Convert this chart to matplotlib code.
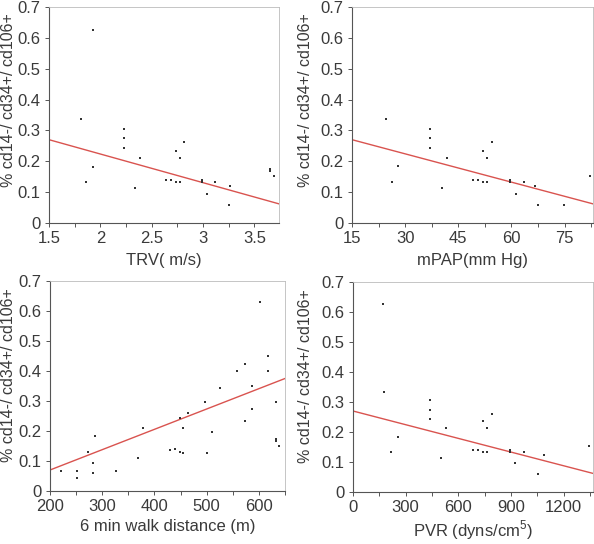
import numpy as np
import matplotlib
matplotlib.use('Agg')
import matplotlib.pyplot as plt
from matplotlib.ticker import MultipleLocator

# TRV (m/s)
trv_x = [1.815, 1.93, 1.864, 1.93, 2.23, 2.23, 2.23, 2.334, 2.39, 2.636, 2.685, 2.734,
         2.734, 2.773, 2.773, 2.815, 2.994, 2.994, 3.04, 3.114, 3.26, 3.25, 3.656, 3.656, 3.695]
trv_y = [0.337, 0.624, 0.133, 0.182, 0.304, 0.274, 0.242, 0.114, 0.21, 0.139, 0.139, 0.234,
         0.132, 0.132, 0.21, 0.261, 0.139, 0.132, 0.095, 0.132, 0.12, 0.057, 0.174, 0.169, 0.153]

# mPAP (mm Hg)
mpap_x = [24.7, 26.2, 28.0, 37.0, 37.0, 37.0, 40.3, 41.7, 49.2, 50.5, 52.0, 52.0,
          53.2, 53.2, 54.6, 59.7, 59.7, 61.2, 63.5, 66.5, 67.6, 74.8, 82.1]
mpap_y = [0.337, 0.132, 0.184, 0.304, 0.274, 0.242, 0.114, 0.21, 0.139, 0.139, 0.234, 0.132,
          0.132, 0.21, 0.261, 0.139, 0.132, 0.095, 0.132, 0.12, 0.057, 0.057, 0.153]

# 6 min walk distance (m)
walk_x = [221, 252, 252, 273, 282, 283, 287, 327, 369, 378, 429, 439, 448, 455, 448, 455,
          465, 496, 501, 511, 526, 558, 573, 573, 587, 587, 603, 618, 618, 633, 633, 633, 639]
walk_y = [0.068, 0.068, 0.042, 0.131, 0.094, 0.061, 0.182, 0.068, 0.111, 0.21, 0.137, 0.14,
          0.131, 0.128, 0.243, 0.21, 0.26, 0.297, 0.128, 0.196, 0.344, 0.4, 0.424, 0.232,
          0.349, 0.273, 0.629, 0.449, 0.4, 0.297, 0.173, 0.168, 0.151]

# PVR (dyns/cm5)
pvr_x = [169, 175, 218, 256, 437, 437, 437, 503, 532, 682, 710, 739, 739, 763, 763, 790,
         896, 896, 925, 972, 1086, 1052, 1342]
pvr_y = [0.626, 0.333, 0.133, 0.184, 0.306, 0.274, 0.243, 0.114, 0.212, 0.141, 0.141, 0.236,
         0.133, 0.133, 0.212, 0.261, 0.141, 0.133, 0.097, 0.133, 0.122, 0.059, 0.153]

# regression line end points
trv_fit = ([1.5, 3.74], [0.27, 0.062])
mpap_fit = ([15, 83], [0.27, 0.062])
walk_fit = ([200, 650], [0.07, 0.375])
pvr_fit = ([0, 1367], [0.27, 0.062])

plt.rcParams['font.family'] = ['Liberation Sans', 'DejaVu Sans']
plt.rcParams['mathtext.fontset'] = 'custom'
plt.rcParams['mathtext.rm'] = 'Liberation Sans'

W, H = 594, 544
fig = plt.figure(figsize=(W / 100, H / 100), dpi=100)

text_col = '#3a3a3a'
panels = [
    # (left, right, top, bottom) in pixels, ylabel x in pixels, ylabel centre y in axes coords, xlabel pad
    ((49, 279, 7, 223), 16, 0.57, 5, trv_x, trv_y, trv_fit, (1.5, 3.74), 0.5, 0.25, 'TRV( m/s)'),
    ((352, 593, 7, 223), 313, 0.57, 5, mpap_x, mpap_y, mpap_fit, (15, 83), 15, 7.5, 'mPAP(mm Hg)'),
    ((50, 285, 281, 491), 16, 0.55, 3, walk_x, walk_y, walk_fit, (200, 650), 100, 50, '6 min walk distance (m)'),
    ((353, 593, 282, 492), 313, 0.55, 2, pvr_x, pvr_y, pvr_fit, (0, 1367), 300, 150, 'PVR (dyns/cm$^5$)'),
]

for (l, r, t, b), lx, ly, xpad, xs, ys, fit, xlim, major, minor, xlabel in panels:
    ax = fig.add_axes([l / W, 1 - b / H, (r - l) / W, (b - t) / H])
    ax.plot(fit[0], fit[1], color='#d9534f', lw=1.0)
    ax.plot(xs, ys, 's', color='#333333', ms=1.8, mew=0)
    ax.set_xlim(*xlim)
    ax.set_ylim(0, 0.7)
    ax.xaxis.set_major_locator(MultipleLocator(major))
    ax.xaxis.set_minor_locator(MultipleLocator(minor))
    ax.set_yticks(np.arange(0, 0.71, 0.1))
    ax.set_yticklabels(['0'] + ['%.1f' % v for v in np.arange(0.1, 0.71, 0.1)])
    xt = [v for v in ax.get_xticks() if xlim[0] <= v <= xlim[1]]
    ax.set_xticks(xt)
    ax.set_xticklabels(['%g' % v for v in xt])
    for s in ['left', 'bottom']:
        ax.spines[s].set_color('#555555')
        ax.spines[s].set_linewidth(0.8)
    for s in ['top', 'right']:
        ax.spines[s].set_color('#bbbbbb')
        ax.spines[s].set_linewidth(0.6)
    ax.tick_params(which='both', direction='out', length=3, width=0.7,
                   color='#555555', labelsize=12, labelcolor=text_col, pad=3)
    ax.set_xlabel(xlabel, fontsize=12, color=text_col, labelpad=xpad)
    ax.set_ylabel('% cd14-/ cd34+/ cd106+', fontsize=11.5, color=text_col)
    ax.yaxis.set_label_coords((lx - l) / (r - l), ly)

fig.savefig('out.png', dpi=100)
